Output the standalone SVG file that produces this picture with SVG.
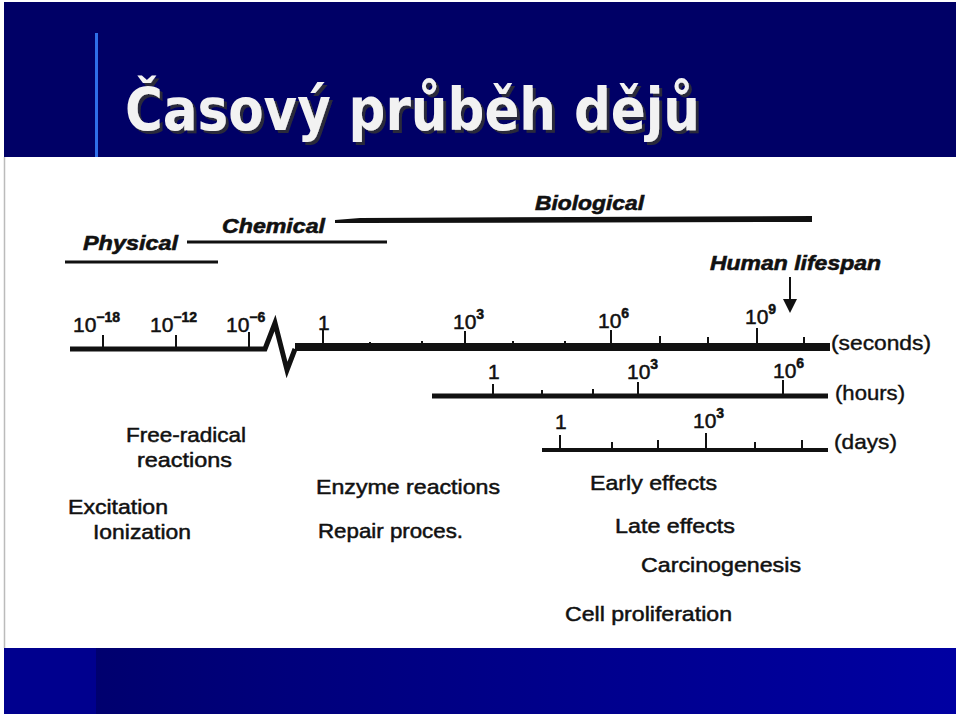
<svg xmlns="http://www.w3.org/2000/svg" width="960" height="716" viewBox="0 0 960 716">
<defs>
<linearGradient id="botg" x1="0" y1="0" x2="1" y2="0">
<stop offset="0" stop-color="#000068"/>
<stop offset="0.3" stop-color="#00007c"/>
<stop offset="1" stop-color="#0000a2"/>
</linearGradient>
<filter id="shadow" x="-5%" y="-20%" width="110%" height="140%">
<feOffset in="SourceAlpha" dx="3" dy="3" result="off"/>
<feFlood flood-color="#2a2a3a"/>
<feComposite in2="off" operator="in" result="sh"/>
<feMerge><feMergeNode in="sh"/><feMergeNode in="SourceGraphic"/></feMerge>
</filter>
<style>
.lbl{font-family:"Liberation Sans",Arial,sans-serif;font-size:21px;fill:#111;stroke:#111;stroke-width:0.5;}
.era{font-family:"Liberation Sans",Arial,sans-serif;font-size:21px;font-weight:bold;font-style:italic;fill:#111;stroke:#111;stroke-width:0.6;}
.num{font-family:"Liberation Sans",Arial,sans-serif;font-size:21px;fill:#111;stroke:#111;stroke-width:0.5;}
.sup{font-size:14px;font-weight:bold;}
.unit{font-family:"Liberation Sans",Arial,sans-serif;font-size:21px;fill:#111;stroke:#111;stroke-width:0.4;}
.tick{stroke:#111;stroke-width:2;}
.bar{stroke:#111;fill:none;}
</style>
</defs>
<rect width="960" height="716" fill="#ffffff"/>
<g id="header">
<rect x="4" y="2" width="952" height="155" fill="#000066"/>
<rect x="95" y="33" width="3" height="124" fill="#2f6fe8"/>
<text x="125" y="130" font-family="DejaVu Sans,Verdana,sans-serif" font-weight="bold" font-size="58" fill="#f2f2f2" textLength="575" lengthAdjust="spacingAndGlyphs" filter="url(#shadow)">Časový průběh dějů</text>
</g>
<line x1="4.5" y1="157" x2="4.5" y2="648" stroke="#bbbbbb" stroke-width="1.5"/>
<g id="footer">
<rect x="4" y="648" width="952" height="66" fill="url(#botg)"/>
<rect x="4" y="648" width="92" height="66" fill="#00008e"/>
</g>
<g id="phases">
<g id="physical">
<text class="era" x="83" y="250" textLength="95" lengthAdjust="spacingAndGlyphs">Physical</text>
<line class="bar" x1="65" y1="262" x2="218" y2="262" stroke-width="3"/>
</g>
<g id="chemical">
<text class="era" x="222" y="233" textLength="103" lengthAdjust="spacingAndGlyphs">Chemical</text>
<line class="bar" x1="187" y1="242" x2="387" y2="242" stroke-width="3"/>
</g>
<g id="biological">
<text class="era" x="535" y="210" textLength="109" lengthAdjust="spacingAndGlyphs">Biological</text>
<polygon points="335,220 360,218 812,216 812,222 360,223 335,223" fill="#111"/>
</g>
<g id="lifespan">
<text class="era" x="710" y="270" textLength="171" lengthAdjust="spacingAndGlyphs">Human lifespan</text>
<line x1="790" y1="277" x2="790" y2="302" stroke="#111" stroke-width="2"/>
<polygon points="783,299 797,299 790,313" fill="#111"/>
</g>
</g>
<g id="connectors">
<g id="axis-seconds">
<polyline points="70,349 265,349 275,323 287,370 295,349" fill="none" stroke="#111" stroke-width="5" stroke-linejoin="miter"/>
<line x1="295" y1="347" x2="830" y2="347" stroke="#111" stroke-width="8"/>
<line class="tick" x1="103" y1="335" x2="103" y2="349"/>
<line class="tick" x1="176" y1="335" x2="176" y2="349"/>
<line class="tick" x1="249" y1="332" x2="249" y2="349"/>
<line class="tick" x1="323" y1="330" x2="323" y2="347"/>
<line class="tick" x1="370" y1="342" x2="370" y2="347"/>
<line class="tick" x1="422" y1="341" x2="422" y2="347"/>
<line class="tick" x1="465" y1="331" x2="465" y2="347"/>
<line class="tick" x1="513" y1="341" x2="513" y2="347"/>
<line class="tick" x1="565" y1="341" x2="565" y2="347"/>
<line class="tick" x1="611" y1="330" x2="611" y2="347"/>
<line class="tick" x1="660" y1="336" x2="660" y2="347"/>
<line class="tick" x1="708" y1="337" x2="708" y2="347"/>
<line class="tick" x1="757" y1="328" x2="757" y2="347"/>
<line class="tick" x1="804" y1="337" x2="804" y2="347"/>
</g>
<g id="axis-hours">
<line x1="432" y1="396" x2="828" y2="396" stroke="#111" stroke-width="5"/>
<line class="tick" x1="493" y1="384" x2="493" y2="396"/>
<line class="tick" x1="542" y1="390" x2="542" y2="396"/>
<line class="tick" x1="593" y1="389" x2="593" y2="396"/>
<line class="tick" x1="638" y1="382" x2="638" y2="396"/>
<line class="tick" x1="783" y1="380" x2="783" y2="396"/>
</g>
<g id="axis-days">
<line x1="542" y1="450" x2="828" y2="450" stroke="#111" stroke-width="4"/>
<line class="tick" x1="560" y1="435" x2="560" y2="450"/>
<line class="tick" x1="612" y1="442" x2="612" y2="450"/>
<line class="tick" x1="658" y1="440" x2="658" y2="450"/>
<line class="tick" x1="706" y1="433" x2="706" y2="450"/>
<line class="tick" x1="755" y1="442" x2="755" y2="450"/>
<line class="tick" x1="802" y1="440" x2="802" y2="450"/>
</g>
</g>
<g id="scale-labels">
<text class="num" x="73" y="332">10<tspan class="sup" dy="-10">−18</tspan></text>
<text class="num" x="150" y="332">10<tspan class="sup" dy="-10">−12</tspan></text>
<text class="num" x="226" y="332">10<tspan class="sup" dy="-10">−6</tspan></text>
<text class="num" x="318" y="330">1</text>
<text class="num" x="453" y="329">10<tspan class="sup" dy="-10">3</tspan></text>
<text class="num" x="598" y="328">10<tspan class="sup" dy="-10">6</tspan></text>
<text class="num" x="745" y="324">10<tspan class="sup" dy="-10">9</tspan></text>
<text class="unit" x="831" y="350" textLength="100" lengthAdjust="spacingAndGlyphs">(seconds)</text>
<text class="num" x="488" y="379">1</text>
<text class="num" x="627" y="379">10<tspan class="sup" dy="-10">3</tspan></text>
<text class="num" x="773" y="378">10<tspan class="sup" dy="-10">6</tspan></text>
<text class="unit" x="835" y="400" textLength="70" lengthAdjust="spacingAndGlyphs">(hours)</text>
<text class="num" x="555" y="429">1</text>
<text class="num" x="693" y="428">10<tspan class="sup" dy="-10">3</tspan></text>
<text class="unit" x="834" y="449" textLength="63" lengthAdjust="spacingAndGlyphs">(days)</text>
</g>
<g id="events">
<g id="free-radical"><text class="lbl" x="126" y="442" textLength="120" lengthAdjust="spacingAndGlyphs">Free-radical</text><text class="lbl" x="137" y="467" textLength="95" lengthAdjust="spacingAndGlyphs">reactions</text></g>
<g id="excitation"><text class="lbl" x="68" y="514" textLength="100" lengthAdjust="spacingAndGlyphs">Excitation</text><text class="lbl" x="93" y="539" textLength="98" lengthAdjust="spacingAndGlyphs">Ionization</text></g>
<g id="enzyme"><text class="lbl" x="316" y="494" textLength="184" lengthAdjust="spacingAndGlyphs">Enzyme reactions</text></g>
<g id="repair"><text class="lbl" x="318" y="538" textLength="145" lengthAdjust="spacingAndGlyphs">Repair proces.</text></g>
<g id="early"><text class="lbl" x="590" y="490" textLength="127" lengthAdjust="spacingAndGlyphs">Early effects</text></g>
<g id="late"><text class="lbl" x="615" y="533" textLength="120" lengthAdjust="spacingAndGlyphs">Late effects</text></g>
<g id="carcinogenesis"><text class="lbl" x="641" y="572" textLength="160" lengthAdjust="spacingAndGlyphs">Carcinogenesis</text></g>
<g id="proliferation"><text class="lbl" x="565" y="621" textLength="167" lengthAdjust="spacingAndGlyphs">Cell proliferation</text></g>
</g>
</svg>
